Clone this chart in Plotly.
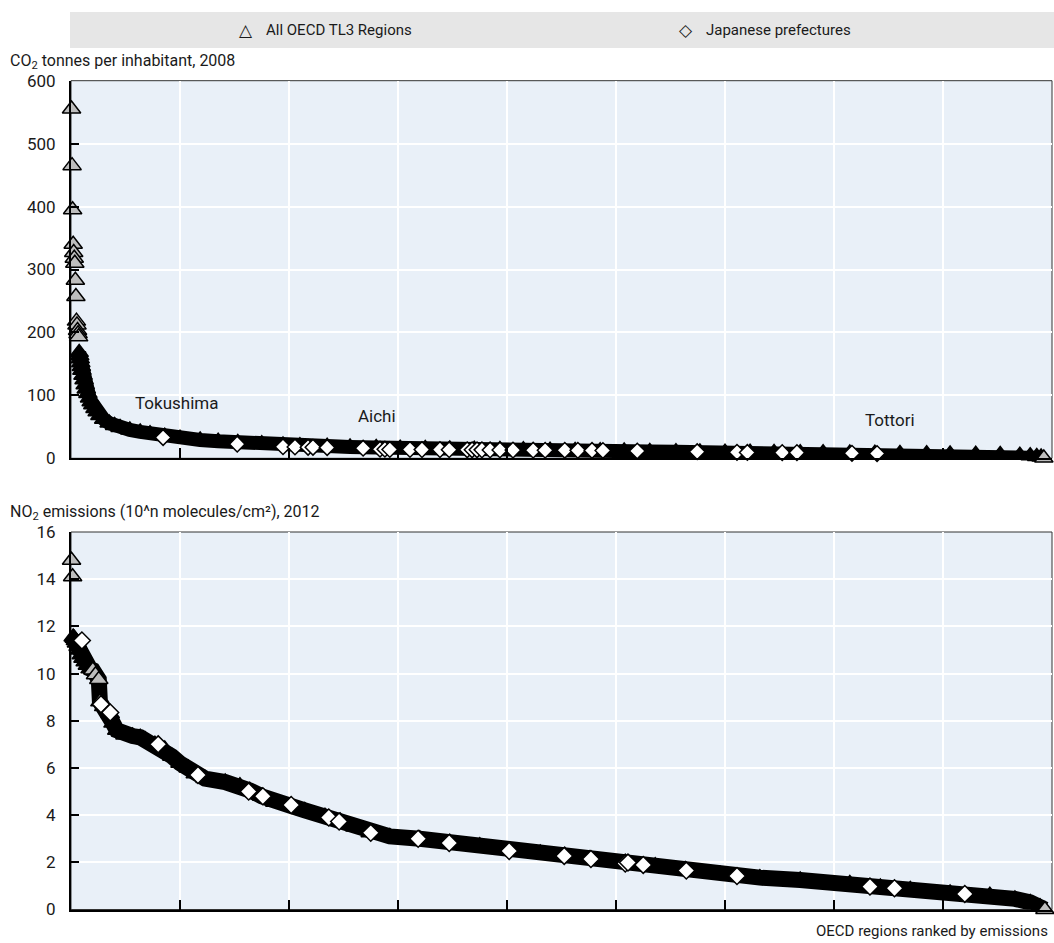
import plotly.graph_objects as go

W, H = 1054, 943

# ---------------- data ----------------
# CO2 tonnes per inhabitant, 2008 - all OECD TL3 regions (rank, value)
co2_rank = [1, 2, 3, 4, 5, 6, 7, 8, 9, 10, 11, 12, 13, 14, 15, 16, 17, 18, 19, 20,
            22, 24, 26, 28, 31, 34, 37, 40, 44, 48, 53, 60, 70, 80, 90, 108, 127, 145,
            172, 200, 237, 270, 306, 350, 389, 420, 470, 512, 560, 604, 650, 695, 740,
            787, 830, 879, 925, 971, 1015, 1062, 1110, 1154, 1200, 1246, 1290, 1338,
            1380, 1429, 1475, 1521, 1570, 1613, 1660, 1705, 1741, 1760, 1772, 1780, 1785]
co2_all = [555, 465, 395, 340, 327, 318, 310, 283, 257, 218, 212, 203, 198, 193, 168, 163,
           158, 152, 146, 140, 132, 125, 117, 110, 103, 96, 90, 85, 79, 74, 68, 62, 56, 52,
           49, 45, 42, 39, 35, 32, 29, 27, 25, 23, 21, 20, 19, 18, 17, 16, 15.5, 15, 14.5,
           14, 13.5, 13, 12.5, 12, 11.5, 11, 10.5, 10, 9.8, 9.5, 9.2, 9, 8.7, 8.4, 8, 7.7,
           7.3, 7, 6.5, 6, 5, 4, 3, 2, 0.5]

# CO2 - Japanese prefectures (rank, value)
co2_jp_rank = [169, 305, 389, 411, 435, 444, 470, 536, 567, 576, 585, 622, 644, 677, 694,
               727, 736, 745, 754, 769, 787, 811, 848, 870, 906, 930, 956, 976, 1039, 1149,
               1222, 1241, 1305, 1332, 1433, 1479]
co2_jp = [33, 22.5, 18.5, 18, 17.5, 17.5, 17, 16, 14.5, 14.5, 14, 14, 13.8, 13.8, 13.7,
          13.5, 13.5, 13.5, 13.4, 13.3, 13.2, 13, 12.9, 12.8, 12.7, 12.6, 12.5, 12.4, 11.5,
          10.5, 9.5, 9.3, 9, 9, 8, 7.5]

# NO2 emissions (10^n molecules/cm2), 2012 - all OECD TL3 regions (rank, value)
no2_rank = [1, 3, 4, 6, 8, 10, 13, 16, 19, 22, 26, 30, 35, 40, 45, 51, 53, 60, 72, 77, 84,
            99, 113, 127, 136, 154, 172, 185, 200, 215, 228, 246, 283, 310, 328, 350, 374,
            402, 429, 466, 494, 521, 549, 585, 640, 695, 750, 806, 861, 906, 952, 1017,
            1072, 1127, 1191, 1264, 1338, 1429, 1485, 1540, 1613, 1686, 1732, 1760, 1778, 1787]
no2_all = [14.8, 14.1, 11.55, 11.5, 11.4, 11.3, 11.15, 11.0, 10.8, 10.65, 10.5, 10.35,
           10.2, 10.15, 9.95, 9.75, 8.8, 8.6, 8.3, 7.9, 7.6, 7.4, 7.35, 7.3, 7.2, 7.0, 6.8,
           6.5, 6.2, 6.0, 5.75, 5.55, 5.4, 5.25, 5.05, 4.8, 4.55, 4.4, 4.2, 3.95, 3.75, 3.5,
           3.25, 3.1, 3.0, 2.85, 2.7, 2.5, 2.4, 2.3, 2.15, 2.0, 1.85, 1.7, 1.5, 1.35, 1.25,
           1.1, 0.95, 0.85, 0.7, 0.6, 0.45, 0.3, 0.12, 0.0]

# NO2 - Japanese prefectures (rank, value)
no2_jp_rank = [20, 55, 72, 160, 233, 326, 352, 404, 473, 492, 550, 637, 694, 804, 905, 954,
               1017, 1022, 1050, 1129, 1222, 1466, 1511, 1640]
no2_jp = [11.4, 8.7, 8.35, 7.0, 5.7, 5.0, 4.8, 4.43, 3.9, 3.73, 3.25, 3.0, 2.82, 2.48,
          2.27, 2.14, 1.95, 1.99, 1.89, 1.65, 1.42, 0.97, 0.9, 0.66]

co2_ticks = [0, 100, 200, 300, 400, 500, 600]
no2_ticks = [0, 2, 4, 6, 8, 10, 12, 14, 16]
x_max = 1800

labels = [("Tokushima", 194, 88), ("Aichi", 561, 67), ("Tottori", 1502, 61)]

# ---------------- styling ----------------
FONT = "Roboto, Liberation Sans Narrow, sans-serif"
BG = "#e9f0f8"
GRAY = "#bdbdbd"
TXT = "#1a1a1a"


def py(p):
    return 1 - p / H


fig = go.Figure()


def add_panel(xref, yref, rank, vals, jp_rank, jp, n_head, gray_idx, band_w, dsize):
    # dense band of overlapping regions
    fig.add_trace(go.Scatter(
        x=rank[n_head:], y=vals[n_head:], xaxis=xref, yaxis=yref, mode="lines",
        line=dict(color="black", width=band_w), hoverinfo="skip", showlegend=False,
        cliponaxis=False))
    colors = [GRAY if (i < n_head or i in gray_idx or i == len(vals) - 1) else "black"
              for i in range(len(vals))]
    order = sorted(range(len(vals)), key=lambda i: colors[i] == GRAY)
    fig.add_trace(go.Scatter(
        x=[rank[i] for i in order], y=[vals[i] for i in order], xaxis=xref, yaxis=yref,
        mode="markers", name="All OECD TL3 Regions", showlegend=False, cliponaxis=False,
        marker=dict(symbol="triangle-up", size=16, color=[colors[i] for i in order],
                    line=dict(color="black", width=1.5))))
    fig.add_trace(go.Scatter(
        x=jp_rank, y=jp, xaxis=xref, yaxis=yref, mode="markers", cliponaxis=False,
        name="Japanese prefectures", showlegend=False,
        marker=dict(symbol="diamond", size=dsize, color="white",
                    line=dict(color="black", width=1.5))))


add_panel("x", "y", co2_rank, co2_all, co2_jp_rank, co2_jp, 14, set(), 14, 12)
add_panel("x2", "y2", no2_rank, no2_all, no2_jp_rank, no2_jp, 2, {13, 14, 15, 16}, 16, 13)

xdom = [71 / W, 1052 / W]
axis_x = dict(range=[0, x_max], dtick=200, tick0=0, showticklabels=False, ticks="inside",
              ticklen=10, tickcolor="black", tickwidth=1.5, showgrid=True,
              gridcolor="white", gridwidth=2, showline=True, linecolor="black",
              linewidth=2, zeroline=False, domain=xdom, automargin=False)
axis_y = dict(ticks="inside", ticklen=8, tickcolor="black", tickwidth=1.5,
              showgrid=True, gridcolor="white", gridwidth=2, showline=True,
              linecolor="black", linewidth=2, zeroline=False, ticklabelstandoff=10,
              automargin=False, tickfont=dict(family=FONT, size=17, color=TXT))

fig.update_layout(
    width=W, height=H, margin=dict(l=0, r=0, t=0, b=0, autoexpand=False),
    paper_bgcolor="white", plot_bgcolor=BG, showlegend=False,
    font=dict(family=FONT, size=16, color=TXT),
    xaxis=dict(axis_x, anchor="y"),
    xaxis2=dict(axis_x, anchor="y2"),
    yaxis=dict(axis_y, range=[0, 600], tickvals=co2_ticks, anchor="x",
               domain=[py(458.3), py(80.7)]),
    yaxis2=dict(axis_y, range=[0, 16], tickvals=no2_ticks, anchor="x2",
                domain=[py(909.5), py(532)]),
)

# thin frame (top / right)
for xr, yr in (("x", "y"), ("x2", "y2")):
    fig.add_shape(type="rect", xref=f"{xr} domain", yref=f"{yr} domain", x0=0, x1=1,
                  y0=0, y1=1, line=dict(color="#333333", width=1), layer="below")

# legend band
fig.add_shape(type="rect", xref="paper", yref="paper", x0=70 / W, x1=1,
              y0=py(48), y1=py(12), fillcolor="#e6e6e6", line=dict(width=0), layer="below")
legend_items = [("△", 246, "All OECD TL3 Regions", 264),
                ("◇", 686, "Japanese prefectures", 704)]
for sym, sx, txt, tx in legend_items:
    fig.add_annotation(xref="paper", yref="paper", x=sx / W, y=py(30), text=sym,
                       showarrow=False, xanchor="center", yanchor="middle",
                       font=dict(family="DejaVu Sans", size=17, color=TXT))
    fig.add_annotation(xref="paper", yref="paper", x=tx / W, y=py(30), text=txt,
                       showarrow=False, xanchor="left", yanchor="middle",
                       font=dict(family=FONT, size=15, color=TXT))

# panel titles
fig.add_annotation(xref="paper", yref="paper", x=8 / W, y=py(62),
                   text="CO<sub>2</sub> tonnes per inhabitant, 2008", showarrow=False,
                   xanchor="left", yanchor="middle", font=dict(family=FONT, size=16, color=TXT))
fig.add_annotation(xref="paper", yref="paper", x=8 / W, y=py(512),
                   text="NO<sub>2</sub> emissions (10^n molecules/cm²), 2012", showarrow=False,
                   xanchor="left", yanchor="middle", font=dict(family=FONT, size=16, color=TXT))
fig.add_annotation(xref="paper", yref="paper", x=1050 / W, y=py(931),
                   text="OECD regions ranked by emissions", showarrow=False,
                   xanchor="right", yanchor="middle", font=dict(family=FONT, size=15, color=TXT))

for name, rx, ry in labels:
    fig.add_annotation(x=rx, y=ry, xref="x", yref="y", text=name, showarrow=False,
                       xanchor="center", yanchor="middle",
                       font=dict(family=FONT, size=17, color=TXT))

fig.write_html("out.html", config={"displayModeBar": False},
               post_script="document.body.style.margin='0';document.body.style.overflow='hidden';")
